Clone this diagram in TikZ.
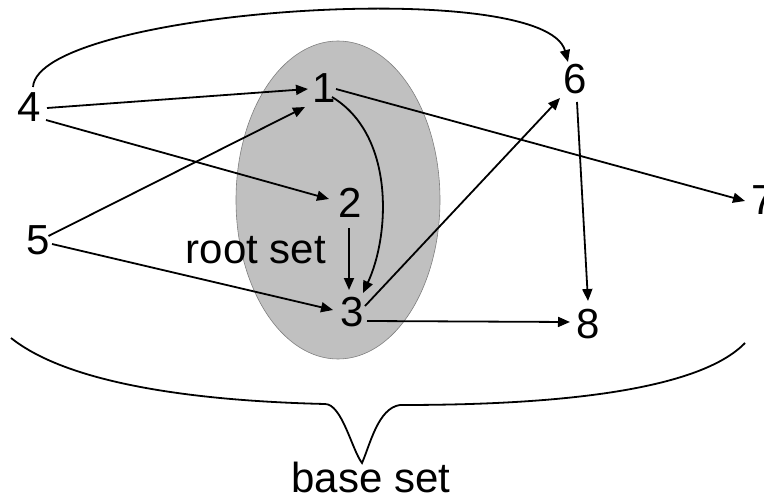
\documentclass[tikz,border=0pt]{standalone}
\usepackage{fontspec}
\setmainfont{Liberation Sans}
\usetikzlibrary{arrows.meta,calc}
\definecolor{rootfill}{HTML}{C0C0C0}
\definecolor{rootedge}{HTML}{7F7F7F}
\tikzset{
  lbl/.style={inner sep=0pt, font=\fontsize{42}{50}\selectfont},
  arr/.style={line width=1.8pt, -{Triangle[length=12pt,width=10pt]}},
  bracepath/.style={line width=1.8pt},
}
\begin{document}
\begin{tikzpicture}[x=1pt,y=-1pt]
\useasboundingbox (0,0) rectangle (764,495);
% root set region
\draw[fill=rootfill, draw=rootedge, line width=0.6pt] (338,200) ellipse [x radius=102, y radius=159];
% nodes
\node[lbl] (n4) at (29,107) {4};
\node[lbl] (n1) at (324,88) {1};
\node[lbl] (n6) at (575,79) {6};
\node[lbl] (n7) at (763,200) {7};
\node[lbl] (n2) at (350,203) {2};
\node[lbl] (n5) at (38.5,240) {5};
\node[lbl] (n3) at (352,312) {3};
\node[lbl] (n8) at (588,324) {8};
\node[lbl, anchor=base] (root) at (256,263) {root set};
\node[lbl, anchor=base] (base) at (371,492) {base set};
% edges
\draw[arr] ($(n4)+(18,1)$) -- ($(n1)+(-16,1)$);
\draw[arr] ($(n4)+(17,13)$) -- ($(n2)+(-21,-4)$);
\draw[arr] ($(n5)+(10,-4)$) -- ($(n1)+(-19,19)$);
\draw[arr] ($(n5)+(13.5,4)$) -- ($(n3)+(-19,-2)$);
\draw[arr] ($(n1)+(12,1)$) -- ($(n7)+(-18,1)$);
\draw[arr] ($(n1)+(8,9)$) .. controls (395,135) and (390,235) .. ($(n3)+(11,-19)$);
\draw[arr] ($(n2)+(-1,25)$) -- ($(n3)+(-3,-22)$);
\draw[arr] ($(n3)+(13,-6)$) -- ($(n6)+(-15,19)$);
\draw[arr] ($(n6)+(2,23)$) -- ($(n8)+(0,-23)$);
\draw[arr] ($(n3)+(15,9)$) -- ($(n8)+(-18,-2)$);
\draw[arr] ($(n4)+(4,-20)$) .. controls (38,10) and (545,-25) .. ($(n6)+(-7,-17)$);
% base set brace
\coordinate (bl) at (11,338);
\coordinate (br) at (745,343);
\coordinate (btip) at (362,463);
\draw[bracepath] (bl) .. controls (70,385) and (200,401) .. (325,404)
  .. controls (342,404) and (352,450) .. (btip)
  .. controls (370,445) and (378,408) .. (400,405)
  .. controls (500,405) and (690,400) .. (br);
\end{tikzpicture}
\end{document}
